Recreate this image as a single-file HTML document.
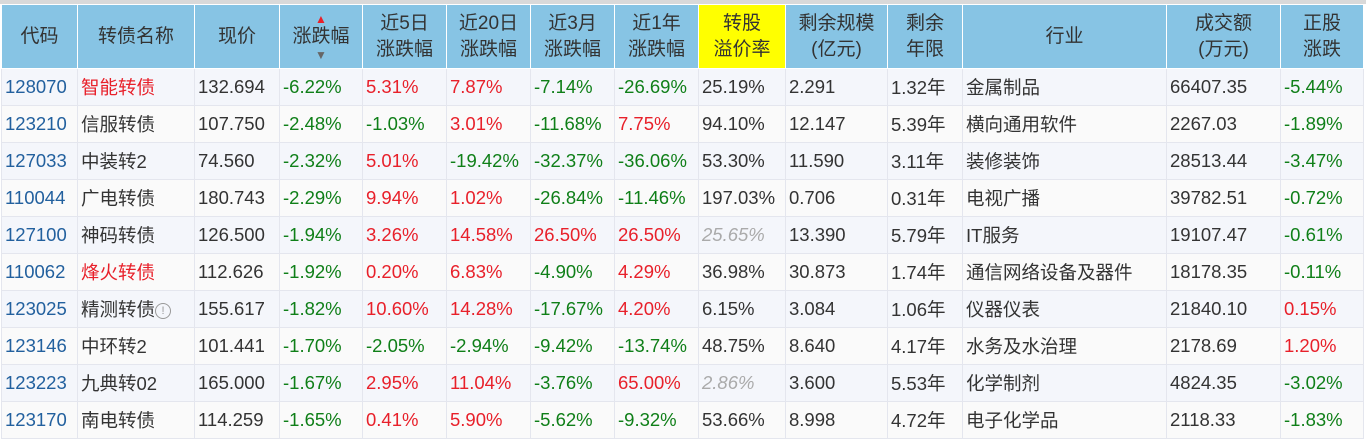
<!DOCTYPE html>
<html><head><meta charset="utf-8"><style>
body{margin:0;background:#fff;width:1366px;height:440px;overflow:hidden;font-family:"Liberation Sans","Noto Sans CJK SC",sans-serif;}
.top{position:absolute;left:0;top:0;width:1366px;height:4px;background:#d9d9d9}
table{position:absolute;left:1px;top:4px;border-collapse:collapse;table-layout:fixed;font-size:18.5px;color:#333}
th{background:#87c4e4;color:#333;font-weight:normal;border:1px solid #fff;height:63px;line-height:26px;text-align:center;padding:0;font-size:19px}
td{border:1px solid #e4e6ee;height:36px;padding:0 0 0 3px;white-space:nowrap;overflow:hidden}
tr:nth-child(odd) td{background:#fafafa}
tr:nth-child(even) td{background:#f4f6fb}
.c{color:#22609e}.r{color:#e8202a}.g{color:#0f7f18}.gi{color:#aaa;font-style:italic}
.y{background:#ffff00!important}
.i{display:inline-block;width:14px;height:14px;border:1px solid #999;border-radius:50%;font-size:11px;line-height:14px;text-align:center;color:#999;vertical-align:2px}
</style></head><body><div class="top"></div>
<table>
<colgroup><col style="width:76px"><col style="width:117px"><col style="width:85px"><col style="width:83px"><col style="width:84px"><col style="width:84px"><col style="width:84px"><col style="width:84px"><col style="width:87px"><col style="width:102px"><col style="width:75px"><col style="width:204px"><col style="width:114px"><col style="width:83px"></colgroup>
<tr><th>代码</th><th>转债名称</th><th>现价</th><th><div style="color:#e8202a;font-size:12px;line-height:10px">▲</div>涨跌幅<div style="color:#666;font-size:12px;line-height:10px">▼</div></th><th>近5日<br>涨跌幅</th><th>近20日<br>涨跌幅</th><th>近3月<br>涨跌幅</th><th>近1年<br>涨跌幅</th><th class="y">转股<br>溢价率</th><th>剩余规模<br>(亿元)</th><th>剩余<br>年限</th><th>行业</th><th>成交额<br>(万元)</th><th>正股<br>涨跌</th></tr>
<tr><td class="c">128070</td><td class="r">智能转债</td><td>132.694</td><td class="g">-6.22%</td><td class="r">5.31%</td><td class="r">7.87%</td><td class="g">-7.14%</td><td class="g">-26.69%</td><td>25.19%</td><td>2.291</td><td>1.32年</td><td>金属制品</td><td>66407.35</td><td class="g">-5.44%</td></tr>
<tr><td class="c">123210</td><td>信服转债</td><td>107.750</td><td class="g">-2.48%</td><td class="g">-1.03%</td><td class="r">3.01%</td><td class="g">-11.68%</td><td class="r">7.75%</td><td>94.10%</td><td>12.147</td><td>5.39年</td><td>横向通用软件</td><td>2267.03</td><td class="g">-1.89%</td></tr>
<tr><td class="c">127033</td><td>中装转2</td><td>74.560</td><td class="g">-2.32%</td><td class="r">5.01%</td><td class="g">-19.42%</td><td class="g">-32.37%</td><td class="g">-36.06%</td><td>53.30%</td><td>11.590</td><td>3.11年</td><td>装修装饰</td><td>28513.44</td><td class="g">-3.47%</td></tr>
<tr><td class="c">110044</td><td>广电转债</td><td>180.743</td><td class="g">-2.29%</td><td class="r">9.94%</td><td class="r">1.02%</td><td class="g">-26.84%</td><td class="g">-11.46%</td><td>197.03%</td><td>0.706</td><td>0.31年</td><td>电视广播</td><td>39782.51</td><td class="g">-0.72%</td></tr>
<tr><td class="c">127100</td><td>神码转债</td><td>126.500</td><td class="g">-1.94%</td><td class="r">3.26%</td><td class="r">14.58%</td><td class="r">26.50%</td><td class="r">26.50%</td><td class="gi">25.65%</td><td>13.390</td><td>5.79年</td><td>IT服务</td><td>19107.47</td><td class="g">-0.61%</td></tr>
<tr><td class="c">110062</td><td class="r">烽火转债</td><td>112.626</td><td class="g">-1.92%</td><td class="r">0.20%</td><td class="r">6.83%</td><td class="g">-4.90%</td><td class="r">4.29%</td><td>36.98%</td><td>30.873</td><td>1.74年</td><td>通信网络设备及器件</td><td>18178.35</td><td class="g">-0.11%</td></tr>
<tr><td class="c">123025</td><td>精测转债<span class="i">!</span></td><td>155.617</td><td class="g">-1.82%</td><td class="r">10.60%</td><td class="r">14.28%</td><td class="g">-17.67%</td><td class="r">4.20%</td><td>6.15%</td><td>3.084</td><td>1.06年</td><td>仪器仪表</td><td>21840.10</td><td class="r">0.15%</td></tr>
<tr><td class="c">123146</td><td>中环转2</td><td>101.441</td><td class="g">-1.70%</td><td class="g">-2.05%</td><td class="g">-2.94%</td><td class="g">-9.42%</td><td class="g">-13.74%</td><td>48.75%</td><td>8.640</td><td>4.17年</td><td>水务及水治理</td><td>2178.69</td><td class="r">1.20%</td></tr>
<tr><td class="c">123223</td><td>九典转02</td><td>165.000</td><td class="g">-1.67%</td><td class="r">2.95%</td><td class="r">11.04%</td><td class="g">-3.76%</td><td class="r">65.00%</td><td class="gi">2.86%</td><td>3.600</td><td>5.53年</td><td>化学制剂</td><td>4824.35</td><td class="g">-3.02%</td></tr>
<tr><td class="c">123170</td><td>南电转债</td><td>114.259</td><td class="g">-1.65%</td><td class="r">0.41%</td><td class="r">5.90%</td><td class="g">-5.62%</td><td class="g">-9.32%</td><td>53.66%</td><td>8.998</td><td>4.72年</td><td>电子化学品</td><td>2118.33</td><td class="g">-1.83%</td></tr>
</table></body></html>
